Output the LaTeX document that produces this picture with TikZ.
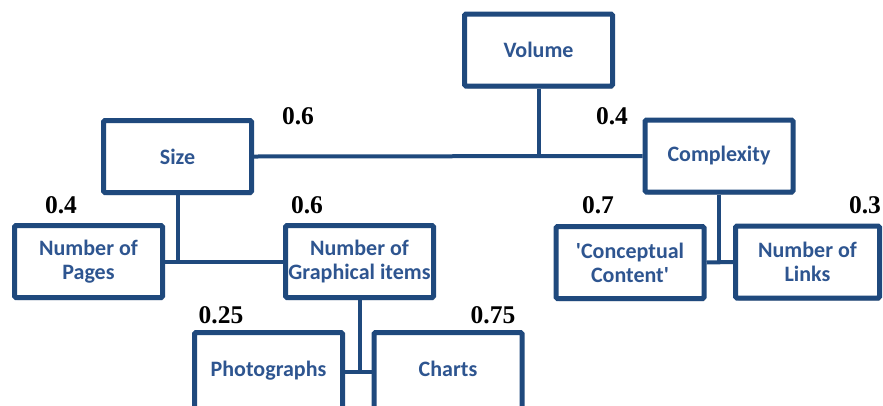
\documentclass[tikz,border=0pt]{standalone}
\usepackage{fontspec}
\setmainfont{Liberation Serif}
\newfontfamily\boxfont{Carlito}
\usetikzlibrary{shadows,calc}
\definecolor{bordercol}{HTML}{1F497D}
\definecolor{textcol}{HTML}{2E5590}
\begin{document}
\begin{tikzpicture}[x=1pt,y=-1pt,
  box/.style={draw=bordercol, line width=5pt, fill=white, rounded corners=1.5pt,
    minimum width=148pt, minimum height=72pt, inner sep=0pt, align=center,
    font=\boxfont\bfseries\fontsize{22}{24}\selectfont, text=textcol,
    drop shadow={shadow xshift=1.5pt, shadow yshift=-2.5pt, opacity=0.25, fill=black}},
  link/.style={draw=bordercol, line width=4pt},
  weight/.style={font=\bfseries\fontsize{25.5}{27}\selectfont, text=black, inner sep=0pt}]
\useasboundingbox (0,0) rectangle (883,405);
\clip (0,0) rectangle (883,405);
% nodes
\node[box] (vol) at (538.5,50) {Volume};
\node[box] (size) at (177.5,156.5) {Size};
\node[box] (cplx) at (719,156) {Complexity};
\node[box] (pages) at (88.5,261.5) {Number of\\Pages};
\node[box] (graph) at (359.5,261.5) {Number of\\Graphical items};
\node[box] (conc) at (630,262.5) {'Conceptual\\Content'};
\node[box, minimum width=144pt] (links) at (807.5,262) {Number of\\Links};
\node[box, minimum height=82pt] (photo) at (268.5,373.5) {\raisebox{9pt}{Photographs}};
\node[box, minimum height=82pt] (charts) at (448,373.5) {\raisebox{9pt}{Charts}};
% connectors
\coordinate (j1) at (vol.south |- size.east);
\coordinate (j2) at (size.south |- pages.east);
\coordinate (j3) at (cplx.south |- conc.east);
\coordinate (j4) at ($(graph.south)+(0,72)$);
\draw[link] (size.east) -- (cplx.west);
\draw[link] (vol.south) -- (j1);
\draw[link] (pages.east) -- (graph.west);
\draw[link] (size.south) -- (j2);
\draw[link] (conc.east) -- (links.west);
\draw[link] (cplx.south) -- (j3);
\draw[link] (photo.east |- j4) -- (charts.west |- j4);
\draw[link] (graph.south) -- (j4);
% weights
\node[weight] (w1) at (298,116) {0.6};
\node[weight] (w2) at (612,116) {0.4};
\node[weight] (w3) at (61,205) {0.4};
\node[weight] (w4) at (307,205) {0.6};
\node[weight] (w5) at (598,205) {0.7};
\node[weight] (w6) at (865,205) {0.3};
\node[weight] (w7) at (221,315) {0.25};
\node[weight] (w8) at (493,315) {0.75};
\end{tikzpicture}
\end{document}
